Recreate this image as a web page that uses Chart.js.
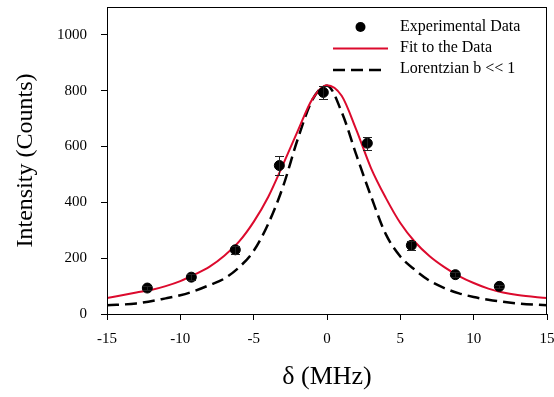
<!DOCTYPE html>
<html><head><meta charset="utf-8">
<script src="https://cdn.jsdelivr.net/npm/chart.js@4.4.1/dist/chart.umd.min.js"></script>
<style>html,body{margin:0;padding:0;background:#fff}#wrap{width:554px;height:397px}</style>
</head><body><div id="wrap"><canvas id="c" width="554" height="397"></canvas></div>
<script>
// Experimental data
const expX = [-12.25, -9.25, -6.25, -3.25, -0.25, 2.75, 5.75, 8.75, 11.75];
const expY = [93, 132, 230, 532, 794, 612, 246, 141, 99];
const expErr = [6, 10, 15, 34, 23, 23, 17, 10, 6];
// Fit to the data
const fitX = [-15,-13,-12,-11,-10,-9,-8,-7,-6,-5,-4,-3,-2,-1,0,1,2,3,4,5,6,7,8,9,10,11,12,13,15];
const fitY = [57,77,86,100,118,142,170,209,259,330,420,535,655,770,820,782,660,523,417,326,258,207,168,136,111,91,77,68,57];
// Lorentzian b << 1
const lorX = [-15,-13,-11,-10,-9,-8,-7,-6,-5,-4,-3,-2,-1,0,1,2,3,4,5,6,7,8,9,10,11,13,15];
const lorY = [31,38,56,67,83,104,127,167,226,324,456,626,767,818,724,570,422,287,206,158,119,93,74,61,51,38,31];
const xTicks = [-15,-10,-5,0,5,10,15];
const yTicks = [0,200,400,600,800,1000];
const legendLabels = ['Experimental Data','Fit to the Data','Lorentzian b << 1'];

const serif = '"Liberation Serif", "Times New Roman", serif';
const toPts = (xs, ys) => xs.map((x,i)=>({x:x,y:ys[i]}));

const extras = {
  id:'extras',
  afterDatasetsDraw(chart){
    const ctx = chart.ctx, xs = chart.scales.x, ys = chart.scales.y, a = chart.chartArea;
    ctx.save();
    // error bars
    ctx.strokeStyle = '#222'; ctx.lineWidth = 1;
    expX.forEach((x,i)=>{
      const px = Math.round(xs.getPixelForValue(x))+0.5;
      const t = Math.round(ys.getPixelForValue(expY[i]+expErr[i]))+0.5;
      const b = Math.round(ys.getPixelForValue(expY[i]-expErr[i]))+0.5;
      ctx.beginPath();
      ctx.moveTo(px,t); ctx.lineTo(px,b);
      ctx.moveTo(px-4.5,t); ctx.lineTo(px+4.5,t);
      ctx.moveTo(px-4.5,b); ctx.lineTo(px+4.5,b);
      ctx.stroke();
    });
    // frame
    ctx.strokeStyle = '#000'; ctx.lineWidth = 1;
    ctx.strokeRect(a.left+0.5, a.top+0.5, a.right-a.left-1, a.bottom-a.top);
    // legend
    ctx.font = '16px ' + serif;
    ctx.fillStyle = '#000'; ctx.textBaseline = 'middle'; ctx.textAlign='left';
    ctx.beginPath(); ctx.arc(360.5, 27, 5, 0, Math.PI*2); ctx.fill();
    ctx.fillText(legendLabels[0], 400, 27);
    ctx.strokeStyle = '#dc0a2d'; ctx.lineWidth = 2;
    ctx.beginPath(); ctx.moveTo(333,48.5); ctx.lineTo(388,48.5); ctx.stroke();
    ctx.fillText(legendLabels[1], 400, 48);
    ctx.strokeStyle = '#000'; ctx.lineWidth = 2.5; ctx.setLineDash([12,6]);
    ctx.beginPath(); ctx.moveTo(333,70); ctx.lineTo(385,70); ctx.stroke();
    ctx.setLineDash([]);
    ctx.fillText(legendLabels[2], 400, 69);
    ctx.restore();
  }
};

new Chart(document.getElementById('c'), {
  type:'scatter',
  data:{datasets:[
    {label:legendLabels[1], data:toPts(fitX,fitY), showLine:true, borderColor:'#dc0a2d', borderWidth:2, pointRadius:0, cubicInterpolationMode:'monotone', order:2},
    {label:legendLabels[2], data:toPts(lorX,lorY), showLine:true, borderColor:'#000', borderWidth:2.5, borderDash:[12,6], pointRadius:0, cubicInterpolationMode:'monotone', order:3},
    {label:legendLabels[0], data:toPts(expX,expY), showLine:false, pointRadius:5, pointBackgroundColor:'#000', pointBorderColor:'#000', order:1}
  ]},
  options:{
    responsive:false, animation:false, devicePixelRatio:1,
    layout:{padding:{top:7,right:7,left:0,bottom:0}},
    plugins:{legend:{display:false}, tooltip:{enabled:false}},
    scales:{
      x:{type:'linear', min:-15, max:15,
        afterBuildTicks(s){ s.ticks = xTicks.map(v=>({value:v})); },
        afterFit(s){ s.height = 83; s.paddingLeft = 0; s.paddingRight = 0; },
        grid:{display:true, drawOnChartArea:false, drawTicks:true, tickLength:6, color:'#000', tickColor:'#000'},
        border:{display:true, color:'#000', width:1},
        ticks:{color:'#000', font:{family:serif, size:15}, padding:10, maxRotation:0, autoSkip:false, callback:v=>String(v)},
        title:{display:true, text:'δ (MHz)', color:'#000', font:{family:serif, size:26}, padding:{top:0,bottom:4}}
      },
      y:{type:'linear', min:0, max:1100,
        afterBuildTicks(s){ s.ticks = yTicks.map(v=>({value:v})); },
        afterFit(s){ s.width = 107; s.paddingTop = 0; s.paddingBottom = 0; },
        grid:{display:true, drawOnChartArea:false, drawTicks:true, tickLength:6, color:'#000', tickColor:'#000'},
        border:{display:true, color:'#000', width:1},
        ticks:{color:'#000', font:{family:serif, size:15}, padding:14, autoSkip:false, callback:v=>String(v)},
        title:{display:true, text:'Intensity (Counts)', color:'#000', font:{family:serif, size:24}, padding:{top:11,bottom:0}}
      }
    }
  },
  plugins:[extras]
});
</script></body></html>
